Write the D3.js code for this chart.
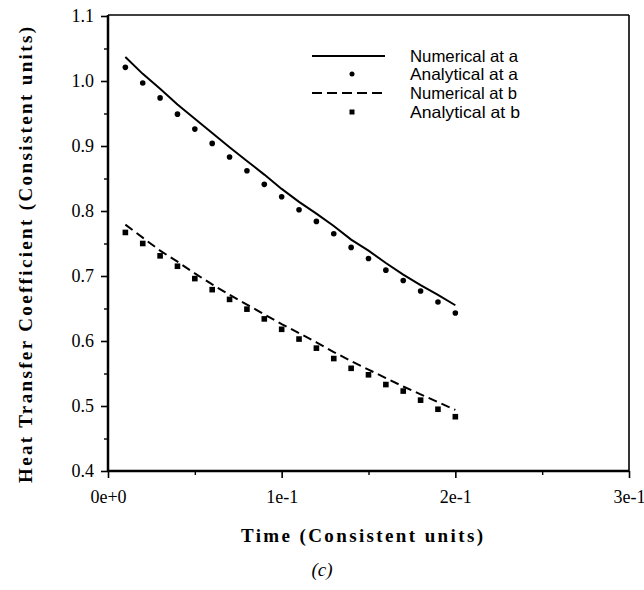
<!DOCTYPE html>
<html>
<head>
<meta charset="utf-8">
<script src="https://cdn.jsdelivr.net/npm/d3@7"></script>
<style>
  html, body { margin: 0; padding: 0; background: #fff; }
  svg { display: block; }
</style>
</head>
<body>
<script>
// ---- data ----
const times = [0.01,0.02,0.03,0.04,0.05,0.06,0.07,0.08,0.09,0.10,0.11,0.12,0.13,0.14,0.15,0.16,0.17,0.18,0.19,0.20];
const numericalA = [1.037,1.011,0.988,0.964,0.942,0.920,0.898,0.877,0.856,0.834,0.814,0.796,0.777,0.756,0.739,0.720,0.702,0.686,0.671,0.655];
const analyticalA = [1.021,0.997,0.974,0.949,0.926,0.904,0.883,0.862,0.841,0.822,0.802,0.784,0.765,0.744,0.727,0.709,0.693,0.677,0.660,0.643];
const numericalB = [0.779,0.759,0.739,0.722,0.704,0.687,0.671,0.656,0.641,0.626,0.612,0.598,0.583,0.569,0.556,0.543,0.530,0.518,0.506,0.494];
const analyticalB = [0.767,0.750,0.731,0.715,0.696,0.679,0.664,0.649,0.634,0.618,0.603,0.589,0.573,0.558,0.548,0.533,0.523,0.509,0.495,0.4835];
const xTicks = [0, 0.1, 0.2, 0.3];
const xTickLabels = ["0e+0", "1e-1", "2e-1", "3e-1"];
const xMinorTicks = [0.05, 0.15, 0.25];
const yTicks = [0.4, 0.5, 0.6, 0.7, 0.8, 0.9, 1.0, 1.1];
const yMinorTicks = [0.45, 0.55, 0.65, 0.75, 0.85, 0.95, 1.05];
const legendLabels = ["Numerical at a", "Analytical at a", "Numerical at b", "Analytical at b"];

const W = 644, H = 590;
const L = 108, R = 629, T = 16, B = 471;

const svg = d3.select("body").append("svg").attr("width", W).attr("height", H);

const x = d3.scaleLinear().domain([0, 0.3]).range([L, R]);
const y = d3.scaleLinear().domain([0.4, 1.1]).range([B, T]);

const serif = "'Liberation Serif', 'Times New Roman', serif";
const sans = "'Liberation Sans', Arial, Helvetica, sans-serif";

// frame top/right
svg.append("line").attr("x1", L).attr("x2", R).attr("y1", T - 1).attr("y2", T - 1)
  .attr("stroke", "#000").attr("stroke-width", 1.6);
svg.append("line").attr("x1", R).attr("x2", R).attr("y1", T - 1).attr("y2", B)
  .attr("stroke", "#000").attr("stroke-width", 1.6);

// axes
const xAxis = d3.axisBottom(x).tickValues(xTicks).tickSize(7).tickPadding(12)
  .tickFormat((d, i) => xTickLabels[i]);
const gx = svg.append("g").attr("transform", `translate(0,${B})`).call(xAxis);
gx.select(".domain").attr("stroke-width", 2.5).attr("d", `M${L},0H${R}`);
gx.selectAll(".tick line").attr("stroke-width", 1.6);
gx.selectAll("text").attr("font-family", serif).attr("font-size", 18).attr("fill", "#000");
const gxm = svg.append("g").attr("transform", `translate(0,${B})`)
  .call(d3.axisBottom(x).tickValues(xMinorTicks).tickSize(4).tickFormat(""));
gxm.select(".domain").remove();
gxm.selectAll(".tick line").attr("stroke-width", 1.4);

const yAxis = d3.axisLeft(y).tickValues(yTicks).tickSize(7).tickPadding(7)
  .tickFormat(d3.format(".1f"));
const gy = svg.append("g").attr("transform", `translate(${L},0)`).call(yAxis);
gy.select(".domain").attr("stroke-width", 2.5).attr("d", `M0,${B}V${T - 1}`);
gy.selectAll(".tick line").attr("stroke-width", 1.6);
gy.selectAll("text").attr("font-family", serif).attr("font-size", 18).attr("fill", "#000");
const gym = svg.append("g").attr("transform", `translate(${L},0)`)
  .call(d3.axisLeft(y).tickValues(yMinorTicks).tickSize(4).tickFormat(""));
gym.select(".domain").remove();
gym.selectAll(".tick line").attr("stroke-width", 1.4);

// lines
const line = d3.line().x((d, i) => x(times[i])).y(d => y(d));
svg.append("path").datum(numericalA).attr("d", line)
  .attr("fill", "none").attr("stroke", "#000").attr("stroke-width", 2);
svg.append("path").datum(numericalB).attr("d", line)
  .attr("fill", "none").attr("stroke", "#000").attr("stroke-width", 2)
  .attr("stroke-dasharray", "9,5");

// points
svg.append("g").selectAll("circle").data(analyticalA).join("circle")
  .attr("cx", (d, i) => x(times[i])).attr("cy", d => y(d)).attr("r", 2.8).attr("fill", "#000");
svg.append("g").selectAll("rect").data(analyticalB).join("rect")
  .attr("x", (d, i) => x(times[i]) - 2.8).attr("y", d => y(d) - 2.8)
  .attr("width", 5.6).attr("height", 5.6).attr("fill", "#000");

// legend
const lg = svg.append("g");
const rows = [56, 74, 93, 112];
lg.append("line").attr("x1", 312).attr("x2", 385).attr("y1", rows[0]).attr("y2", rows[0])
  .attr("stroke", "#000").attr("stroke-width", 2);
lg.append("circle").attr("cx", 352).attr("cy", rows[1]).attr("r", 2.5).attr("fill", "#000");
lg.append("line").attr("x1", 312).attr("x2", 385).attr("y1", rows[2]).attr("y2", rows[2])
  .attr("stroke", "#000").attr("stroke-width", 2).attr("stroke-dasharray", "10,5");
lg.append("rect").attr("x", 349.5).attr("y", rows[3] - 2.5).attr("width", 5).attr("height", 5).attr("fill", "#000");
lg.selectAll("text").data(legendLabels).join("text")
  .attr("x", 410).attr("y", (d, i) => rows[i]).attr("dy", "0.35em")
  .attr("font-family", sans).attr("font-size", 16.5).attr("fill", "#000")
  .attr("textLength", (d, i) => [108, 108, 107, 110][i]).attr("lengthAdjust", "spacingAndGlyphs")
  .text(d => d);

// axis titles
svg.append("text").attr("x", 362).attr("y", 535).attr("dy", "0.35em")
  .attr("text-anchor", "middle").attr("font-family", serif).attr("font-weight", "bold")
  .attr("font-size", 19).attr("textLength", 242).attr("lengthAdjust", "spacing")
  .text("Time (Consistent units)");
svg.append("text").attr("transform", "translate(25,255) rotate(-90)").attr("dy", "0.35em")
  .attr("text-anchor", "middle").attr("font-family", serif).attr("font-weight", "bold")
  .attr("font-size", 19).attr("textLength", 456).attr("lengthAdjust", "spacing")
  .text("Heat Transfer Coefficient (Consistent units)");

svg.append("text").attr("x", 322).attr("y", 569).attr("dy", "0.35em")
  .attr("text-anchor", "middle").attr("font-family", serif).attr("font-style", "italic")
  .attr("font-size", 19).text("(c)");
</script>
</body>
</html>
